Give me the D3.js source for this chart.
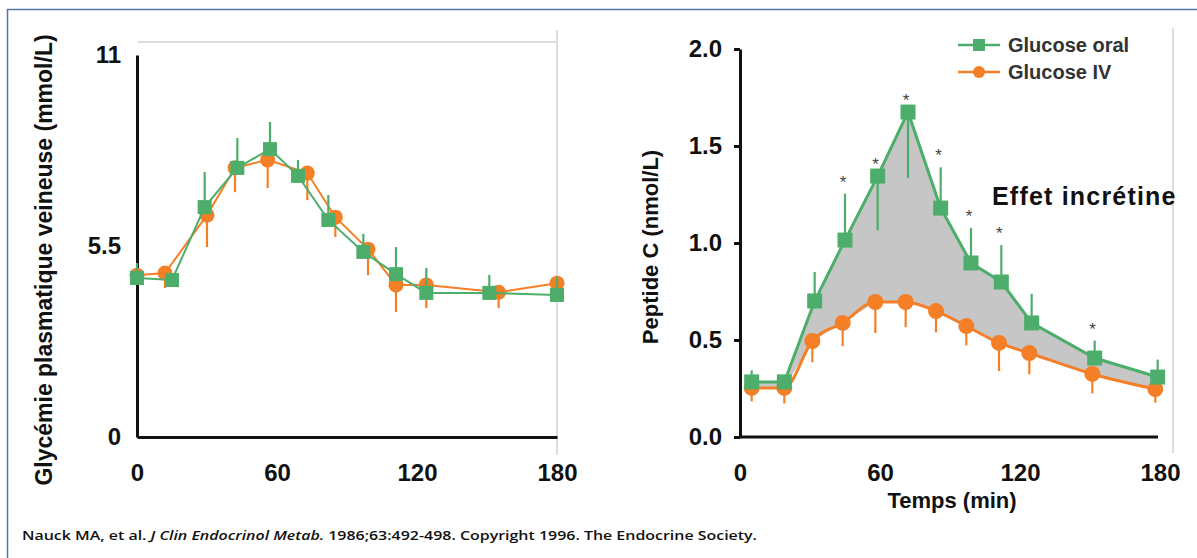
<!DOCTYPE html>
<head>
  <meta charset="utf-8">
  <script src="https://d3js.org/d3.v7.min.js"></script>
  <style>
    body { margin: 0; background: #fff; }
    svg { display: block; font-family: "Liberation Sans", Arial, sans-serif; }
    .axis path, .axis line { stroke: #111; }
    .axis text { font-size: 24px; font-weight: bold; fill: #111; }
    .ylab, .xlab { font-size: 22px; font-weight: bold; fill: #111; }
    .legend text { font-size: 20px; font-weight: bold; fill: #333; }
  </style>
</head>
<body>
  <div id="chart"></div>
  <script>
    // ---- left panel : glycemie (mmol/L) ----
    var glyOralT   = [0, 15, 29, 43, 57, 69, 82, 97, 111, 124, 151, 180];
    var glyOral    = [4.58, 4.52, 6.62, 7.75, 8.29, 7.52, 6.25, 5.33, 4.69, 4.15, 4.15, 4.09];
    var glyOralErr = [0.43, 0.1, 1.01, 0.86, 0.78, 0.46, 0.72, 0.52, 0.78, 0.72, 0.52, 0.52];
    var glyIvT     = [0, 12, 30, 42, 56, 73, 85, 99, 111, 124, 155, 180];
    var glyIv      = [4.66, 4.72, 6.39, 7.75, 7.98, 7.6, 6.33, 5.41, 4.38, 4.38, 4.17, 4.43];
    var glyIvErr   = [-0.1, -0.43, -0.92, -0.7, -0.81, -0.78, -0.57, -0.75, -0.78, -0.67, -0.46, -0.1];
    var glyTicks   = [0, 5.5, 11];

    // ---- right panel : peptide C (nmol/L) ----
    var pepOralT   = [5, 19, 32, 45, 59, 72, 86, 99, 112, 125, 152, 179];
    var pepOral    = [0.284, 0.284, 0.701, 1.015, 1.345, 1.675, 1.18, 0.897, 0.799, 0.588, 0.407, 0.309];
    var pepOralErr = [0.06, 0.02, 0.15, 0.24, -0.28, -0.34, 0.21, 0.18, 0.19, 0.15, 0.09, 0.09];
    var pepStars   = [false, false, false, true, true, true, true, true, true, false, true, false];
    var pepIvT     = [5, 19, 31, 44, 58, 71, 84, 97, 111, 124, 151, 178];
    var pepIv      = [0.253, 0.253, 0.495, 0.588, 0.696, 0.696, 0.649, 0.572, 0.485, 0.433, 0.325, 0.247];
    var pepIvErr   = [-0.07, -0.08, -0.11, -0.12, -0.16, -0.13, -0.11, -0.10, -0.145, -0.11, -0.10, -0.07];
    var pepTicks   = [0, 0.5, 1.0, 1.5, 2.0];

    var timeTicks  = [0, 60, 120, 180];
    var green = "#4cae6a", orange = "#f47f26";

    var svg = d3.select("#chart").append("svg")
      .attr("width", 1197)
      .attr("height", 558);

    // frame (top and left edges only)
    svg.append("path")
      .attr("d", "M7.5,558V9.5H1197")
      .attr("fill", "none")
      .attr("stroke", "#5674a8")
      .attr("stroke-width", 1.5);

    function zip(ts, vs, es) {
      return ts.map(function(t, i) { return {t: t, v: vs[i], e: es ? es[i] : 0}; });
    }

    function drawSeries(g, x, y, data, color, lw, shape, size, curve) {
      var line = d3.line()
        .x(function(d) { return x(d.t); })
        .y(function(d) { return y(d.v); })
        .curve(curve || d3.curveLinear);
      g.append("path")
        .datum(data)
        .attr("d", line)
        .attr("fill", "none")
        .attr("stroke", color)
        .attr("stroke-width", lw);
      g.selectAll(null)
          .data(data.filter(function(d) { return d.e !== 0; }))
        .enter().append("line")
          .attr("x1", function(d) { return x(d.t); })
          .attr("x2", function(d) { return x(d.t); })
          .attr("y1", function(d) { return y(d.v); })
          .attr("y2", function(d) { return y(d.v + d.e); })
          .attr("stroke", color)
          .attr("stroke-width", 2.2);
      if (shape == "square") {
        g.selectAll(null)
            .data(data)
          .enter().append("rect")
            .attr("x", function(d) { return x(d.t) - size / 2; })
            .attr("y", function(d) { return y(d.v) - size / 2; })
            .attr("width", size)
            .attr("height", size)
            .attr("fill", color);
      } else {
        g.selectAll(null)
            .data(data)
          .enter().append("circle")
            .attr("cx", function(d) { return x(d.t); })
            .attr("cy", function(d) { return y(d.v); })
            .attr("r", size / 2)
            .attr("fill", color);
      }
    }

    // ================= left panel =================
    var xL = d3.scaleLinear().domain([0, 180]).range([137, 557]);
    var yL = d3.scaleLinear().domain([0, 11]).range([437, 55]);
    var gL = svg.append("g");

    gL.append("line").attr("x1", 138).attr("x2", 557).attr("y1", 42).attr("y2", 42)
      .attr("stroke", "#ddd").attr("stroke-width", 2);
    gL.append("line").attr("x1", 557).attr("x2", 557).attr("y1", 30).attr("y2", 455)
      .attr("stroke", "#ddd").attr("stroke-width", 2);

    gL.append("g").attr("class", "axis")
      .attr("transform", "translate(137,0)")
      .call(d3.axisLeft(yL).tickValues(glyTicks).tickSize(0).tickSizeOuter(0).tickPadding(16)
        .tickFormat(function(d) { return d == 5.5 ? "5.5" : d; }))
      .select(".domain").attr("stroke-width", 3);
    gL.append("g").attr("class", "axis")
      .attr("transform", "translate(0,437)")
      .call(d3.axisBottom(xL).tickValues(timeTicks).tickSize(0).tickSizeOuter(0).tickPadding(27))
      .select(".domain").attr("stroke-width", 3);

    drawSeries(gL, xL, yL, zip(glyIvT, glyIv, glyIvErr), orange, 2, "circle", 15);
    drawSeries(gL, xL, yL, zip(glyOralT, glyOral, glyOralErr), green, 2, "square", 14);

    svg.append("text").attr("class", "ylab")
      .attr("transform", "translate(52,260) rotate(-90)")
      .attr("text-anchor", "middle")
      .attr("font-size", 23)
      .style("font-size", "23px")
      .text("Glycémie plasmatique veineuse (mmol/L)");

    // ================= right panel =================
    var xR = d3.scaleLinear().domain([0, 180]).range([740, 1160]);
    var yR = d3.scaleLinear().domain([0, 2]).range([437, 49]);
    var gR = svg.append("g");

    gR.append("line").attr("x1", 1173).attr("x2", 1173).attr("y1", 28).attr("y2", 453)
      .attr("stroke", "#ddd").attr("stroke-width", 2);

    gR.append("g").attr("class", "axis")
      .attr("transform", "translate(740,0)")
      .call(d3.axisLeft(yR).tickValues(pepTicks).tickSize(6).tickSizeOuter(0).tickPadding(12)
        .tickFormat(d3.format(".1f")))
      .call(function(g) { g.selectAll("line").attr("stroke-width", 3); })
      .select(".domain").attr("stroke-width", 3);
    gR.append("g").attr("class", "axis")
      .attr("transform", "translate(0,437)")
      .call(d3.axisBottom(xR).tickValues(timeTicks).tickSize(0).tickSizeOuter(0).tickPadding(27))
      .select(".domain").attr("stroke-width", 3).attr("d", "M740,0H1158");

    var oral = zip(pepOralT, pepOral, pepOralErr);
    var iv = zip(pepIvT, pepIv, pepIvErr);

    // incretin effect area between the two curves
    var band = oral.concat(iv.slice().reverse());
    gR.append("path")
      .attr("d", d3.line()
        .x(function(d) { return xR(d.t); })
        .y(function(d) { return yR(d.v); })(band) + "Z")
      .attr("fill", "#c6c6c6");

    drawSeries(gR, xR, yR, iv, orange, 3, "circle", 16, d3.curveMonotoneX);
    drawSeries(gR, xR, yR, oral, green, 3, "square", 15);

    gR.selectAll(".star")
        .data(oral.filter(function(d, i) { return pepStars[i]; }))
      .enter().append("text")
        .attr("class", "star")
        .attr("x", function(d) { return xR(d.t) - 2; })
        .attr("y", function(d) { return Math.min(yR(d.v), yR(d.v + d.e)) - 6; })
        .attr("text-anchor", "middle")
        .attr("font-size", 17)
        .attr("fill", "#444")
        .text("*");

    svg.append("text").attr("class", "ylab")
      .attr("transform", "translate(658,247) rotate(-90)")
      .attr("text-anchor", "middle")
      .text("Peptide C (nmol/L)");
    svg.append("text").attr("class", "xlab")
      .attr("x", 952).attr("y", 508)
      .attr("text-anchor", "middle")
      .text("Temps (min)");

    svg.append("text")
      .attr("x", 992).attr("y", 205)
      .attr("font-size", 25).attr("font-weight", "bold")
      .attr("letter-spacing", 1.2)
      .attr("fill", "#111")
      .text("Effet incrétine");

    // legend
    var legendItems = [
      {label: "Glucose oral", color: green, shape: "square"},
      {label: "Glucose IV", color: orange, shape: "circle"}
    ];
    var lg = svg.append("g").attr("class", "legend");
    var item = lg.selectAll("g")
        .data(legendItems)
      .enter().append("g")
        .attr("transform", function(d, i) { return "translate(0," + (45 + i * 27) + ")"; });
    item.append("line")
      .attr("x1", 958).attr("x2", 1000)
      .attr("stroke", function(d) { return d.color; })
      .attr("stroke-width", 2.5);
    item.filter(function(d) { return d.shape == "square"; }).append("rect")
      .attr("x", 973).attr("y", -6).attr("width", 12).attr("height", 12)
      .attr("fill", function(d) { return d.color; });
    item.filter(function(d) { return d.shape == "circle"; }).append("circle")
      .attr("cx", 979).attr("r", 6)
      .attr("fill", function(d) { return d.color; });
    item.append("text")
      .attr("x", 1008).attr("dy", "0.35em")
      .text(function(d) { return d.label; });

    // source
    var src = svg.append("text")
      .attr("x", 22).attr("y", 540)
      .attr("font-family", "'Open Sans', sans-serif")
      .attr("font-size", 13)
      .attr("font-weight", 600)
      .attr("fill", "#111")
      .attr("textLength", 735)
      .attr("lengthAdjust", "spacingAndGlyphs");
    src.append("tspan").text("Nauck MA, et al. ");
    src.append("tspan").attr("font-style", "italic").text("J Clin Endocrinol Metab.");
    src.append("tspan").text("  1986;63:492-498. Copyright 1996. The Endocrine Society.");
  </script>
</body>
